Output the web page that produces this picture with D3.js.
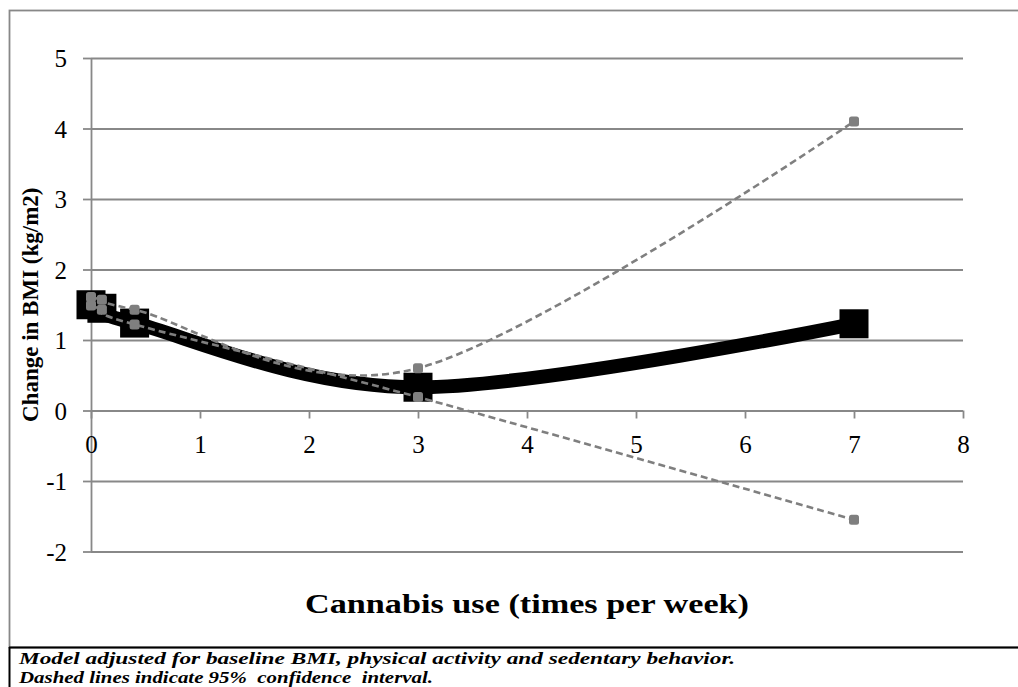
<!DOCTYPE html>
<html>
<head>
<meta charset="utf-8">
<script src="https://cdn.jsdelivr.net/npm/d3@7"></script>
<style>
  html, body { margin: 0; padding: 0; background: #fff; }
  svg { display: block; }
  svg text { font-family: "Liberation Serif", "DejaVu Serif", "Times New Roman", serif; fill: #000; }
</style>
</head>
<body>
<script>
// Cannabis use frequency (times per week)
const useFreq = [0, 0.1, 0.4, 3, 7];
// Modelled change in BMI (kg/m2) and 95% confidence bounds
const bmiChange = [1.5, 1.45, 1.24, 0.33, 1.23];
const ciUpper = [1.61, 1.57, 1.43, 0.6, 4.1];
const ciLower = [1.49, 1.43, 1.22, 0.19, -1.55];
// Axis ticks
const xTicks = [0, 1, 2, 3, 4, 5, 6, 7, 8];
const yTicks = [-2, -1, 0, 1, 2, 3, 4, 5];

const W = 1018, H = 687;
const svg = d3.select("body").append("svg")
  .attr("width", W).attr("height", H);

svg.append("rect").attr("width", W).attr("height", H).attr("fill", "#fff");

const gridColor = "#888888";
const fmt = d => String(d); // plain hyphen for negatives

// Chart frame
svg.append("rect")
  .attr("x", 9.5).attr("y", 10.5)
  .attr("width", 1030).attr("height", 637)
  .attr("fill", "none").attr("stroke", gridColor).attr("stroke-width", 1.8);

// Note box below the chart
svg.append("line").attr("x1", 9).attr("x2", W).attr("y1", 647.5).attr("y2", 647.5)
  .attr("stroke", "#000").attr("stroke-width", 2);
svg.append("line").attr("x1", 9.5).attr("x2", 9.5).attr("y1", 647).attr("y2", H)
  .attr("stroke", "#000").attr("stroke-width", 2);

const x = d3.scaleLinear().domain([0, 8]).range([91, 963]);
const y = d3.scaleLinear().domain([-2, 5]).range([551.5, 58]);

// Horizontal gridlines with left-side ticks
const yAxis = d3.axisLeft(y).tickValues(yTicks).tickSize(8).tickFormat(fmt);
const gy = svg.append("g").attr("transform", "translate(91,0)").call(yAxis)
  .attr("font-family", null).attr("font-size", null);
gy.select(".domain").attr("stroke", gridColor).attr("stroke-width", 1.8)
  .attr("d", `M0.5,${y(5)}V${y(-2)}`);
gy.selectAll(".tick line").attr("stroke", gridColor).attr("stroke-width", 1.8);
gy.selectAll(".tick").filter(d => d !== 0).append("line")
  .attr("x1", 0).attr("x2", x(8) - x(0))
  .attr("stroke", gridColor).attr("stroke-width", 1.8);
gy.selectAll(".tick text")
  .attr("x", -24).attr("dy", "0.34em")
  .style("font-size", "25px");

// Horizontal axis at zero with downward ticks
const xAxis = d3.axisBottom(x).tickValues(xTicks).tickSize(8).tickFormat(fmt);
const gx = svg.append("g").attr("transform", `translate(0,${y(0)})`).call(xAxis)
  .attr("font-family", null).attr("font-size", null);
gx.select(".domain").attr("stroke", gridColor).attr("stroke-width", 1.8)
  .attr("d", `M${x(0)},0.5H${x(8)}`);
gx.selectAll(".tick line").attr("stroke", gridColor).attr("stroke-width", 1.8);
gx.selectAll(".tick text")
  .attr("y", 42).attr("dy", 0)
  .style("font-size", "25px");

// Main estimate: thick smoothed line with large square markers
const pts = useFreq.map((f, i) => [x(f), y(bmiChange[i])]);
const smooth = d3.line().curve(d3.curveCardinal.tension(0));
svg.append("path").attr("d", smooth(pts))
  .attr("fill", "none").attr("stroke", "#000").attr("stroke-width", 14)
  .attr("stroke-linejoin", "round");
const sq = 29;
svg.append("g").selectAll("rect").data(pts).join("rect")
  .attr("x", d => d[0] - sq / 2).attr("y", d => d[1] - sq / 2)
  .attr("width", sq).attr("height", sq).attr("fill", "#000");

// 95% confidence bounds: dashed gray smoothed lines
const ciColor = "#7f7f7f";
[ciUpper, ciLower].forEach(series => {
  const cp = useFreq.map((f, i) => [x(f), y(series[i])]);
  svg.append("path").attr("d", smooth(cp))
    .attr("fill", "none").attr("stroke", ciColor).attr("stroke-width", 2.6)
    .attr("stroke-dasharray", "7,4");
  svg.append("g").selectAll("rect").data(cp).join("rect")
    .attr("x", d => d[0] - 5).attr("y", d => d[1] - 5)
    .attr("width", 10).attr("height", 10).attr("rx", 2.5)
    .attr("fill", ciColor);
});

// Axis titles
svg.append("text")
  .attr("transform", `translate(38,${(y(5) + y(-2)) / 2}) rotate(-90)`)
  .attr("text-anchor", "middle")
  .style("font-weight", "bold").style("font-size", "23px")
  .text("Change in BMI (kg/m2)");

svg.append("text")
  .attr("x", (x(0) + x(8)) / 2).attr("y", 613)
  .attr("text-anchor", "middle")
  .attr("textLength", 444).attr("lengthAdjust", "spacingAndGlyphs")
  .style("font-weight", "bold").style("font-size", "27px")
  .text("Cannabis use (times per week)");

// Note
const notes = [
  "Model adjusted for baseline BMI, physical activity and sedentary behavior.",
  "Dashed lines indicate 95%  confidence  interval."
];
const noteWidths = [716, 414];
svg.append("g").selectAll("text").data(notes).join("text")
  .attr("x", 19).attr("y", (d, i) => 664 + i * 18.5)
  .attr("textLength", (d, i) => noteWidths[i]).attr("lengthAdjust", "spacingAndGlyphs")
  .style("font-weight", "bold").style("font-style", "italic")
  .style("font-size", "16.5px").style("white-space", "pre")
  .text(d => d);
</script>
</body>
</html>
